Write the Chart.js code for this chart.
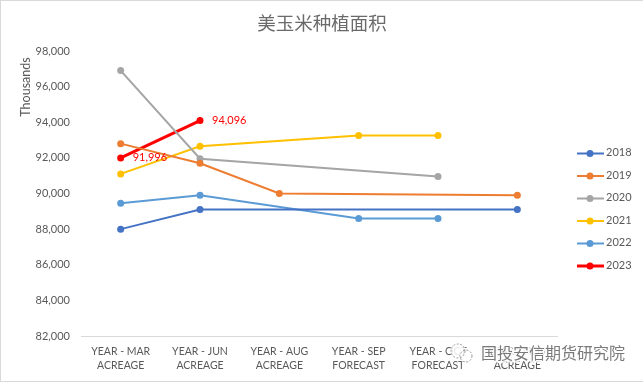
<!DOCTYPE html>
<html>
<head>
<meta charset="utf-8">
<script src="https://cdn.jsdelivr.net/npm/chart.js@4"></script>
<style>
  html, body { margin: 0; padding: 0; background: #fff; }
  #wrap { position: relative; width: 644px; height: 382px; overflow: hidden; }
  #frame { position: absolute; left: 0; top: 0; width: 642px; height: 380px; border: 1px solid #d9d9d9; border-right: 0; box-sizing: content-box; pointer-events: none; }
  #realTimeChart { position: absolute; left: 0; top: 0; }
</style>
</head>
<body>
<div id="wrap">
  <canvas id="realTimeChart" width="644" height="382"></canvas>
  <div id="frame"></div>
</div>
<script>
const categories = [
  ['YEAR - MAR', 'ACREAGE'],
  ['YEAR - JUN', 'ACREAGE'],
  ['YEAR - AUG', 'ACREAGE'],
  ['YEAR - SEP', 'FORECAST'],
  ['YEAR - OCT', 'FORECAST'],
  ['YEAR - NOV', 'ACREAGE']
];
const series2018 = [88000, 89100, null, null, null, 89100];
const series2019 = [92800, 91700, 90000, null, null, 89900];
const series2020 = [96900, 91950, null, null, 90950, null];
const series2021 = [91100, 92650, null, 93250, 93250, null];
const series2022 = [89450, 89900, null, 88600, 88600, null];
const series2023 = [91996, 94096, null, null, null, null];
const yTicks = [82000, 84000, 86000, 88000, 90000, 92000, 94000, 96000, 98000];

const FONT = 'Lato, "Noto Sans CJK SC", sans-serif';
const GREY = '#595959';

function line(label, data, color, width) {
  return {
    label, data, borderColor: color, backgroundColor: color, borderWidth: width || 2,
    pointRadius: 3.5, pointHoverRadius: 3.5, pointBorderWidth: 0,
    spanGaps: true, tension: 0, clip: false
  };
}

// title, legend, data labels, axis caption and watermark drawn on top of the chart
const extras = {
  id: 'extras',
  afterDraw(chart) {
    const c = chart.ctx;
    const red = chart.data.datasets[5];
    c.save();
    c.textBaseline = 'middle';

    // title
    c.font = '18.5px "Noto Sans CJK SC", sans-serif';
    c.fillStyle = '#6a6a6a';
    c.textAlign = 'center';
    c.fillText('美玉米种植面积', 322, 23);

    // y axis caption
    c.save();
    c.translate(26, 87);
    c.rotate(-Math.PI / 2);
    c.font = '12.5px ' + FONT;
    c.fillStyle = GREY;
    c.fillText('Thousands', 0, 0);
    c.restore();

    // red value labels
    c.font = '11px ' + FONT;
    c.fillStyle = '#ff0000';
    c.textAlign = 'left';
    red.data.forEach((v, i) => {
      if (v === null) return;
      const x = chart.scales.x.getPixelForValue(i);
      const y = chart.scales.y.getPixelForValue(v);
      c.fillText(v.toLocaleString('en-US'), x + 12, y);
    });

    // legend
    c.font = '11px ' + FONT;
    chart.data.datasets.forEach((ds, i) => {
      const y = 153.5 + i * 22.5;
      c.strokeStyle = ds.borderColor;
      c.lineWidth = ds.borderWidth;
      c.beginPath();
      c.moveTo(577, y);
      c.lineTo(604, y);
      c.stroke();
      c.fillStyle = ds.borderColor;
      c.beginPath();
      c.arc(590, y, 3.5, 0, Math.PI * 2);
      c.fill();
      c.fillStyle = GREY;
      c.fillText(ds.label, 606, y - 1);
    });

    // watermark
    c.fillStyle = 'rgba(255,255,255,0.85)';
    c.beginPath();
    c.arc(458, 351, 8, 0, Math.PI * 2);
    c.arc(466, 356, 7, 0, Math.PI * 2);
    c.fill();
    c.strokeStyle = '#9a9a9a';
    c.lineWidth = 1;
    c.setLineDash([2, 1.5]);
    c.beginPath();
    c.arc(458, 351, 7, 0, Math.PI * 2);
    c.stroke();
    c.beginPath();
    c.arc(466, 356, 6, 0, Math.PI * 2);
    c.stroke();
    c.setLineDash([]);
    c.font = '16px "Noto Sans CJK SC", sans-serif';
    c.lineWidth = 4;
    c.strokeStyle = 'rgba(255,255,255,0.85)';
    c.lineJoin = 'round';
    c.strokeText('国投安信期货研究院', 481, 353);
    c.fillStyle = '#7a7a7a';
    c.fillText('国投安信期货研究院', 481, 353);
    c.restore();
  }
};

const ctx = document.getElementById('realTimeChart').getContext('2d');
const chart = new Chart(ctx, {
  type: 'line',
  data: {
    labels: categories,
    datasets: [
      line('2018', series2018, '#4472c4'),
      line('2019', series2019, '#ed7d31'),
      line('2020', series2020, '#a5a5a5'),
      line('2021', series2021, '#ffc000'),
      line('2022', series2022, '#5b9bd5'),
      line('2023', series2023, '#ff0000', 3)
    ]
  },
  options: {
    responsive: false,
    animation: false,
    layout: { padding: { top: 51, right: 87, bottom: 0, left: 0 } },
    plugins: {
      legend: { display: false },
      tooltip: { enabled: false }
    },
    scales: {
      x: {
        offset: true,
        afterFit(s) { s.height = 46; },
        grid: { display: false, drawTicks: false, offset: true },
        border: { color: '#d9d9d9', width: 1 },
        ticks: { color: GREY, font: { family: FONT, size: 10.5, lineHeight: 1.4 }, maxRotation: 0, autoSkip: false, padding: 8 }
      },
      y: {
        min: 82000,
        max: 98000,
        afterFit(s) { s.width = 81; },
        afterBuildTicks(s) { s.ticks = yTicks.map(v => ({ value: v })); },
        grid: { display: false, drawTicks: false },
        border: { display: false },
        ticks: { color: GREY, font: { family: FONT, size: 11 }, padding: 11, callback: v => v.toLocaleString('en-US') }
      }
    }
  },
  plugins: [extras]
});
</script>
</body>
</html>
